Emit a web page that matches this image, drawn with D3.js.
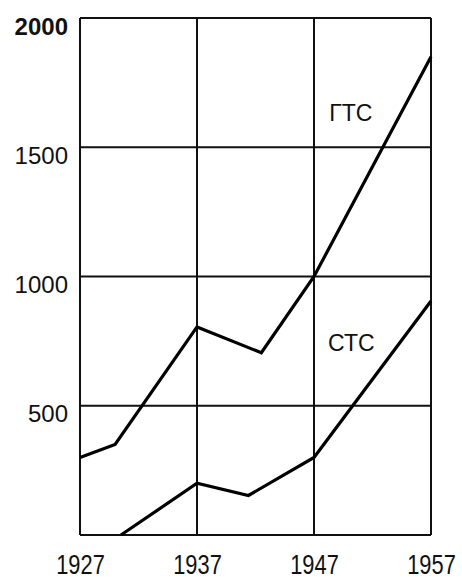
<!DOCTYPE html>
<html>
<head>
<meta charset="utf-8">
<script src="https://cdn.jsdelivr.net/npm/d3@7"></script>
<style>
  body { margin: 0; background: #fff; }
  svg { display: block; font-family: "Liberation Sans", Arial, sans-serif; }
</style>
</head>
<body>
<div id="chart"></div>
<script>
// data
const years = [1927, 1937, 1947, 1957];
const yTicks = [500, 1000, 1500, 2000];

const gtsYears = [1927, 1930, 1937, 1942.5, 1947, 1957];
const gtsValues = [300, 350, 805, 705, 1000, 1850];

const stsYears = [1930.5, 1937, 1941.4, 1947, 1957];
const stsValues = [0, 200, 153, 300, 905];

const labels = [
  {text: "ГТС", year: 1948.3, value: 1632},
  {text: "СТС", year: 1948.2, value: 743}
];

const width = 462;
const height = 577;
const margin = {top: 18, right: 31, bottom: 42, left: 80};
const innerWidth = width - margin.left - margin.right;
const innerHeight = height - margin.top - margin.bottom;

const svg = d3.select("#chart")
  .append("svg")
    .attr("width", width)
    .attr("height", height);

const innerChart = svg.append("g")
  .attr("transform", `translate(${margin.left}, ${margin.top})`);

const xScale = d3.scaleLinear()
  .domain([1927, 1957])
  .range([0, innerWidth]);

const yScale = d3.scaleLinear()
  .domain([0, 2000])
  .range([innerHeight, 0]);

// grid
innerChart.selectAll(".vgrid")
  .data(years)
  .join("line")
    .attr("class", "vgrid")
    .attr("x1", d => xScale(d))
    .attr("x2", d => xScale(d))
    .attr("y1", 0)
    .attr("y2", innerHeight)
    .attr("stroke", "#111")
    .attr("stroke-width", 2);

innerChart.selectAll(".hgrid")
  .data([0, ...yTicks])
  .join("line")
    .attr("class", "hgrid")
    .attr("x1", 0)
    .attr("x2", innerWidth)
    .attr("y1", d => yScale(d))
    .attr("y2", d => yScale(d))
    .attr("stroke", "#111")
    .attr("stroke-width", 2);

// axes (text only)
const xAxis = d3.axisBottom(xScale)
  .tickValues(years)
  .tickFormat(d3.format("d"))
  .tickSize(0)
  .tickPadding(19);

const yAxis = d3.axisLeft(yScale)
  .tickValues(yTicks)
  .tickFormat(d3.format("d"))
  .tickSize(0)
  .tickPadding(12);

innerChart.append("g")
  .attr("class", "x-axis")
  .attr("transform", `translate(0, ${innerHeight})`)
  .call(xAxis)
  .call(g => g.select(".domain").remove())
  .selectAll("text")
    .attr("font-size", 28)
    .attr("transform", "scale(0.78, 1)")
    .attr("fill", "#111")
    .attr("font-family", "Liberation Sans, Arial, sans-serif");

innerChart.append("g")
  .attr("class", "y-axis")
  .call(yAxis)
  .call(g => g.select(".domain").remove())
  .selectAll("text")
    .attr("font-size", 24)
    .attr("dy", "0.67em")
    .attr("fill", "#111")
    .attr("font-weight", d => d === 2000 ? "bold" : "normal")
    .attr("font-family", "Liberation Sans, Arial, sans-serif");

// lines
const line = d3.line()
  .x(d => xScale(d[0]))
  .y(d => yScale(d[1]));

innerChart.append("path")
  .datum(d3.zip(gtsYears, gtsValues))
  .attr("d", line)
  .attr("fill", "none")
  .attr("stroke", "#000")
  .attr("stroke-width", 3.2)
  .attr("stroke-linejoin", "miter");

innerChart.append("path")
  .datum(d3.zip(stsYears, stsValues))
  .attr("d", line)
  .attr("fill", "none")
  .attr("stroke", "#000")
  .attr("stroke-width", 3.2)
  .attr("stroke-linejoin", "miter");

innerChart.selectAll(".series-label")
  .data(labels)
  .join("text")
    .attr("class", "series-label")
    .attr("x", d => xScale(d.year))
    .attr("y", d => yScale(d.value))
    .attr("dy", "0.35em")
    .attr("font-size", 23)
    .attr("fill", "#111")
    .text(d => d.text);
</script>
</body>
</html>
